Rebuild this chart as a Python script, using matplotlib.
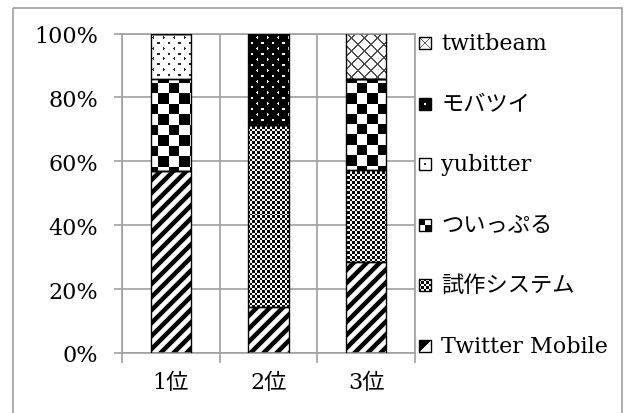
import numpy as np
import matplotlib
matplotlib.use('Agg')
from matplotlib import pyplot as plt
from matplotlib.patches import Rectangle
from matplotlib.ticker import PercentFormatter

plt.rcParams['font.family'] = ['DejaVu Serif', 'Noto Sans CJK JP']

categories = ['1位', '2位', '3位']
series_names = ['Twitter Mobile', '試作システム', 'ついっぷる', 'yubitter', 'モバツイ', 'twitbeam']
# share of each rank (fractions of 1)
twitter_mobile = [0.571, 0.143, 0.286]
shisaku = [0.0, 0.571, 0.286]
tsuippuru = [0.286, 0.0, 0.286]
yubitter = [0.143, 0.0, 0.0]
mobatsui = [0.0, 0.286, 0.0]
twitbeam = [0.0, 0.0, 0.143]
series_values = [twitter_mobile, shisaku, tsuippuru, yubitter, mobatsui, twitbeam]

W, H = 632, 414
GRID = '#a0a0a0'


# fill patterns, computed on figure pixel coords (col X, row Y from top)
def pat_diag(X, Y):
    d = (X + Y) % 13
    return np.clip(np.abs(d - 6.5) / 1.5 - 1.6, 0.0, 1.0)


def pat_small_check(X, Y):
    return np.where(((np.floor(X / 2.5) + np.floor(Y / 2.5)) % 2) == 0, 0.0, 1.0)


def pat_big_check(X, Y):
    return np.where(((np.floor(X / 10.5) + np.floor(Y / 10.5)) % 2) == 0, 0.0, 1.0)


def dots_mask(X, Y):
    r = Y / 5.5
    k = np.round(r)
    dy = (r - k) * 5.5
    c = (X - (k % 2) * 5.25) / 10.5
    dx = (c - np.round(c)) * 10.5
    return dx ** 2 + dy ** 2 < 1.4


def pat_dots(X, Y):
    return np.where(dots_mask(X, Y), 0.15, 1.0)


def pat_dots_inv(X, Y):
    return np.where(dots_mask(X, Y), 0.95, 0.0)


def pat_cross(X, Y):
    m = (((X + Y) % 13) < 1.4) | (((X - Y) % 13) < 1.4)
    return np.where(m, 0.3, 1.0)


patterns = [pat_diag, pat_small_check, pat_big_check, pat_dots, pat_dots_inv, pat_cross]


def pattern_image(func, x0, x1, y0, y1):
    # pixel box in image coords (rows from top)
    cols = np.arange(np.floor(x0), np.ceil(x1)) + 0.5
    rows = np.arange(np.floor(y0), np.ceil(y1)) + 0.5
    X, Y = np.meshgrid(cols, rows)
    return func(X, Y)


fig = plt.figure(figsize=(W / 100, H / 100), dpi=100)
ax = fig.add_axes([122 / W, (H - 354) / H, (415 - 122) / W, (354 - 34.5) / H])

x = np.arange(len(categories))
bottom = np.zeros(len(categories))
bar_groups = []
for name, vals in zip(series_names, series_values):
    bars = ax.bar(x, vals, width=0.41, bottom=bottom, color='none',
                  edgecolor='black', linewidth=1.0, zorder=3, label=name)
    bar_groups.append(bars)
    bottom += np.array(vals)

ax.set_xlim(-0.5, 2.5)
ax.set_ylim(0, 1)
ax.yaxis.set_major_formatter(PercentFormatter(1.0, decimals=0))
ax.set_yticks(np.arange(0, 1.01, 0.2))
ax.set_xticks(x)
ax.set_xticklabels(categories)
ax.set_xticks([-0.5, 0.5, 1.5, 2.5], minor=True)
ax.tick_params(axis='x', which='major', length=0, pad=13, labelsize=16)
ax.tick_params(axis='x', which='minor', length=7, width=1.2, color=GRID, direction='out')
ax.tick_params(axis='y', length=6, width=1.2, color=GRID, pad=11, labelsize=16)
ax.grid(axis='y', color=GRID, linewidth=1.2, zorder=0)
ax.grid(axis='x', which='minor', color=GRID, linewidth=1.2, zorder=0)
ax.set_axisbelow(True)
for side in ['left', 'bottom', 'right', 'top']:
    ax.spines[side].set_color(GRID)
    ax.spines[side].set_linewidth(1.2)

# texture fills clipped to bars
for bars, func in zip(bar_groups, patterns):
    for rect in bars:
        if rect.get_height() <= 0:
            continue
        bx, by, bw, bh = rect.get_x(), rect.get_y(), rect.get_width(), rect.get_height()
        (dx0, dy0), (dx1, dy1) = ax.transData.transform([(bx, by), (bx + bw, by + bh)])
        img = pattern_image(func, dx0, dx1, H - dy1, H - dy0)
        ax.imshow(img, cmap='gray', vmin=0, vmax=1, interpolation='nearest',
                  extent=(bx, bx + bw, by, by + bh), aspect='auto', zorder=2)
ax.set_xlim(-0.5, 2.5)
ax.set_ylim(0, 1)

# overlay in pixel coords for legend and outer frame
ov = fig.add_axes([0, 0, 1, 1], zorder=-1)
ov.set_xlim(0, W)
ov.set_ylim(H, 0)
ov.axis('off')
ov.add_patch(Rectangle((12.5, 8.5), 609, 420, fill=False, edgecolor=GRID, linewidth=1.2))

leg = fig.add_axes([0, 0, 1, 1], zorder=5)
leg.set_xlim(0, W)
leg.set_ylim(H, 0)
leg.axis('off')
leg.patch.set_alpha(0)
row_y = np.linspace(347, 44, len(series_names))
for name, func, yc in zip(series_names, patterns, row_y):
    sx0, sx1 = 419, 431
    sy0, sy1 = yc - 6, yc + 6
    if func is pat_diag:
        sw = np.where(np.add.outer(np.arange(12), np.arange(12)) < 12, 0.0, 1.0)
    elif func is pat_big_check:
        sw = pattern_image(lambda X, Y: np.where(((np.floor(X / 6) + np.floor(Y / 6)) % 2) == 0, 0.0, 1.0),
                           0, 12, 0, 12)
    elif func is pat_dots:
        sw = np.ones((12, 12))
        sw[5:7, 5:7] = 0.2
    elif func is pat_dots_inv:
        sw = np.zeros((12, 12))
        sw[5:7, 5:7] = 0.9
    elif func is pat_cross:
        sw = pattern_image(lambda X, Y: np.where((np.abs(X - Y) < 1) | (np.abs(X + Y - 12) < 1), 0.35, 1.0),
                           0, 12, 0, 12)
    else:
        sw = pattern_image(func, 0, 12, 0, 12)
    leg.imshow(sw, cmap='gray', vmin=0, vmax=1, interpolation='nearest',
               extent=(sx0, sx1, sy1, sy0), aspect='auto')
    leg.add_patch(Rectangle((sx0, sy0), 12, 12, fill=False, edgecolor='black', linewidth=1.0))
    leg.text(441, yc, name, fontsize=16, va='center', ha='left')
leg.set_xlim(0, W)
leg.set_ylim(H, 0)

fig.savefig('out.png', dpi=100)
